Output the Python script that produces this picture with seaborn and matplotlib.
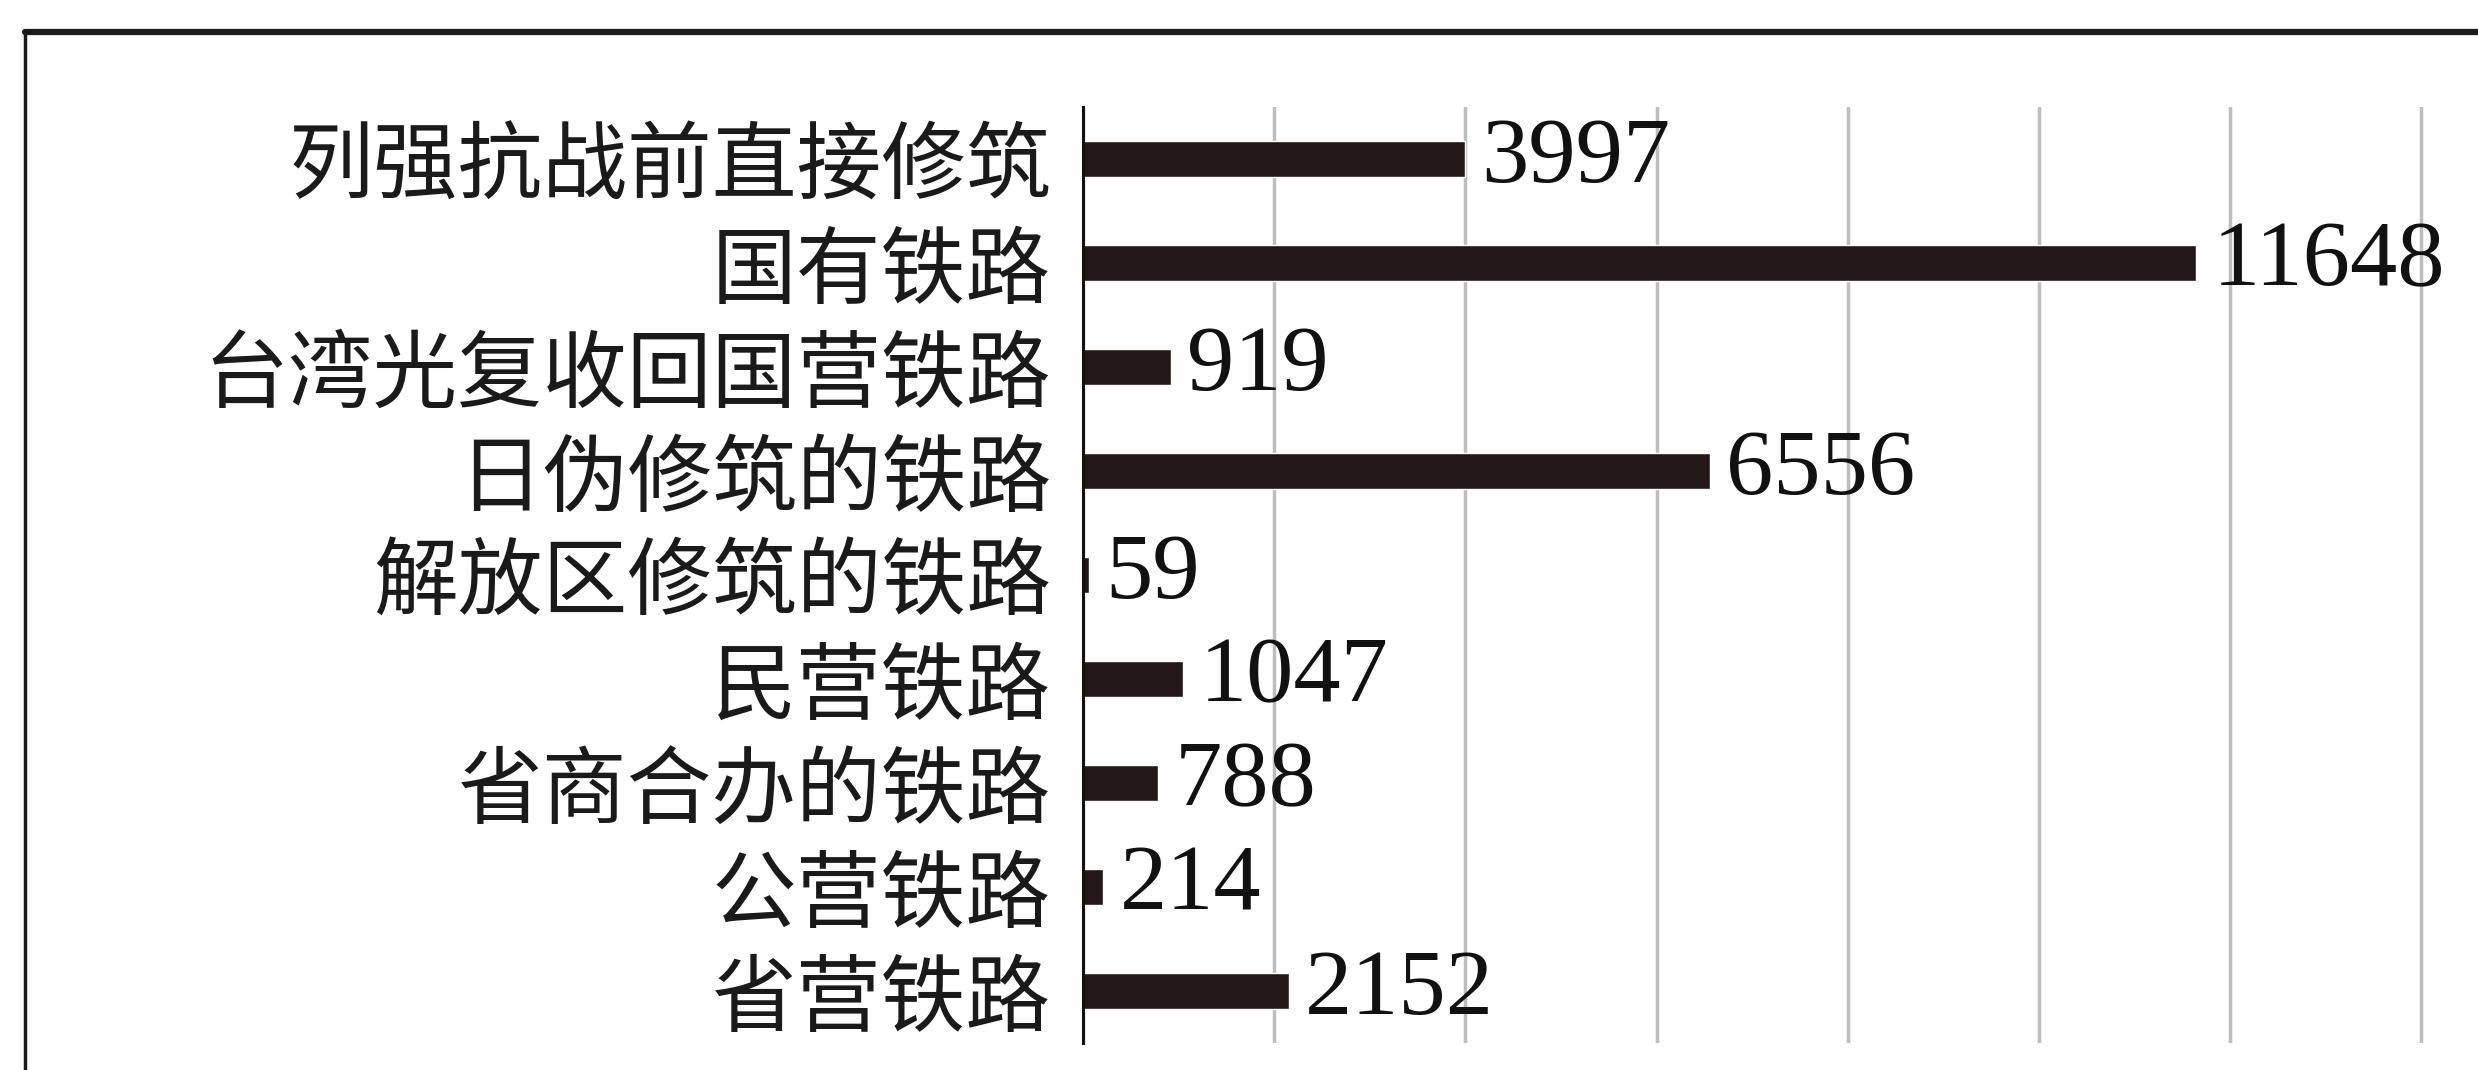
import matplotlib
matplotlib.use("Agg")
import matplotlib.pyplot as plt
import seaborn as sb
from matplotlib.lines import Line2D

# railway length by type (km)
categories = ['列强抗战前直接修筑', '国有铁路', '台湾光复收回国营铁路', '日伪修筑的铁路',
              '解放区修筑的铁路', '民营铁路', '省商合办的铁路', '公营铁路', '省营铁路']
lengths = [3997, 11648, 919, 6556, 59, 1047, 788, 214, 2152]
grid_ticks = [0, 2000, 4000, 6000, 8000, 10000, 12000, 14000]

sb.set_style('white')
plt.rcParams['font.family'] = ['Noto Sans CJK SC', 'DejaVu Sans']

fig = plt.figure(figsize=(24.78, 10.70), dpi=100)
ax = fig.add_axes([0.437, 0.025, 0.544, 0.875])

sb.barplot(x=lengths, y=categories, color='#231816', width=0.35, saturation=1, ax=ax)

# value labels in a Times-like font
ax.bar_label(ax.containers[0], labels=[str(v) for v in lengths], padding=12,
             fontsize=68, family='Liberation Serif', color='#111111', clip_on=False)

ax.set_xlim(0, 14100)
ax.set_xticks(grid_ticks)
ax.set_xticklabels([])
ax.grid(axis='x', color='#bdbdbd', linewidth=2.5)
ax.set_axisbelow(True)
ax.tick_params(axis='y', length=0, pad=23, labelsize=61, labelcolor='#1a1a1a')
ax.tick_params(axis='x', length=0)
ax.set_xlabel('')
ax.set_ylabel('')

for s in ['top', 'right', 'bottom']:
    ax.spines[s].set_visible(False)
ax.spines['left'].set_color('#111111')
ax.spines['left'].set_linewidth(2.2)

# outer frame (top and left edges visible)
fig.add_artist(Line2D([0.010, 1.0], [0.970, 0.970], color='#1a1a1a', linewidth=4.5,
                      transform=fig.transFigure))
fig.add_artist(Line2D([0.010, 0.010], [0.0, 0.970], color='#1a1a1a', linewidth=2.5,
                      transform=fig.transFigure))

plt.savefig('out.png', dpi=100, facecolor='white')
